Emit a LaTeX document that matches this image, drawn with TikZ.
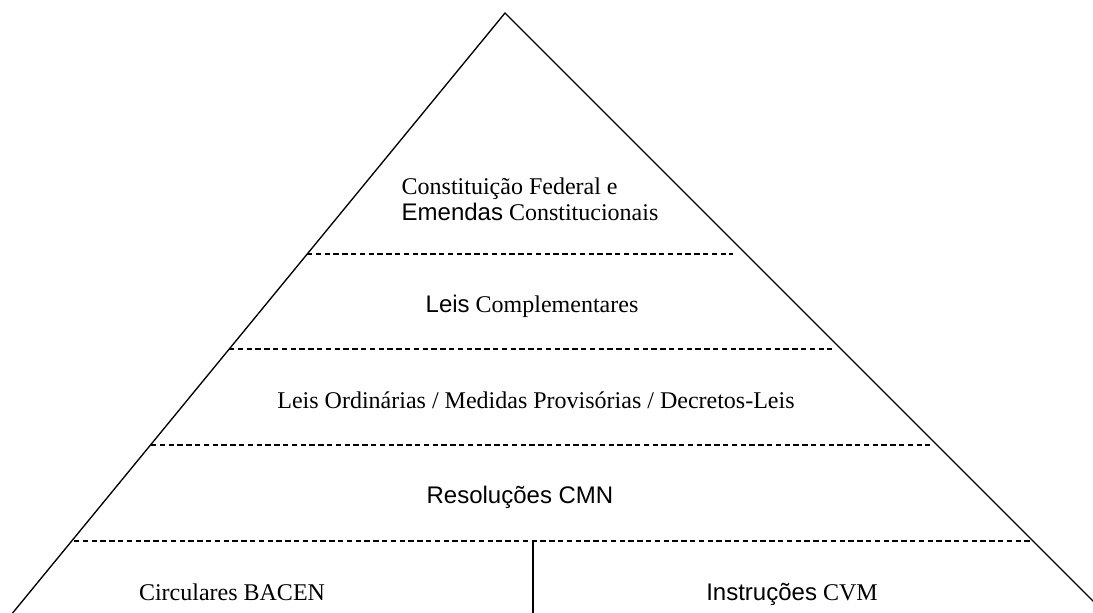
\documentclass[tikz,border=0pt]{standalone}
\usepackage{fontspec}
\setmainfont{Liberation Serif}
\newfontfamily\arialfont{Liberation Sans}

\tikzset{
  level/.style={dashed, dash pattern=on 4pt off 2.6pt, line width=0.9pt},
  label/.style={inner sep=0pt, font=\fontsize{18}{19.5}\selectfont}
}

\begin{document}
\begin{tikzpicture}[x=0.75pt, y=-0.75pt, line width=1pt]

  % Frame
  \clip (0, 0) rectangle (1093, 612);
  \useasboundingbox (0, 0) rectangle (1093, 612);

  % Pyramid
  \coordinate (top) at (505, 13);
  \coordinate (baseL) at (-12, 643);
  \coordinate (baseR) at (1135, 643);
  \draw (baseL) -- (top) -- (baseR);

  % Levels
  \draw[level] (307, 254) -- (733, 254);
  \draw[level] (229, 349) -- (832, 349);
  \draw[level] (151, 445) -- (930, 445);
  \draw[level] (74, 541) -- (1032, 541);
  \draw (533, 541) -- (533, 620);

  \node[label, align=left, anchor=west] (cf) at (401, 199)
    { Constituição Federal e\\{\arialfont Emendas} Constitucionais };
  \node[label, anchor=base] (lc) at (532, 312) { {\arialfont Leis} Complementares };
  \node[label, anchor=base] (lo) at (536, 408) { Leis Ordinárias / Medidas Provisórias / Decretos-Leis };
  \node[label, anchor=base] (cmn) at (520, 503) { \arialfont Resoluções CMN };
  \node[label, anchor=base] (bacen) at (232, 600) { Circulares BACEN };
  \node[label, anchor=base] (cvm) at (792, 600) { {\arialfont Instruções} CVM };

\end{tikzpicture}
\end{document}
